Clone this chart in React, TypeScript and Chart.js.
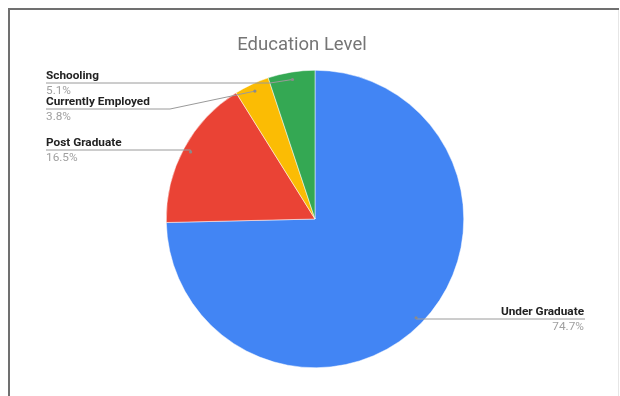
import React, { useEffect, useRef } from "react";
import { Chart, registerables } from "chart.js";

Chart.register(...registerables);

const categories = ["Under Graduate", "Post Graduate", "Currently Employed", "Schooling"];
const shares = [74.7, 16.5, 3.8, 5.1];
const colors = ["#4285F4", "#EA4335", "#FBBC04", "#34A853"];
const chartTitle = "Education Level";

// label layout (page coords): text x, name center y, align, elbow x (null = straight)
const labelLayout = [
  { x: 584, y: 312, align: "right", elbow: null as number | null },
  { x: 46, y: 143, align: "left", elbow: null as number | null },
  { x: 46, y: 102, align: "left", elbow: 170 },
  { x: 46, y: 76, align: "left", elbow: 270 },
];

const labelPlugin = {
  id: "sheetLabels",
  beforeDraw(chart: any) {
    const ctx = chart.ctx;
    const w = chart.width;
    const h = chart.height;
    ctx.save();
    ctx.fillStyle = "#ffffff";
    ctx.fillRect(0, 0, w, h);
    ctx.fillStyle = "#707070";
    ctx.fillRect(8, 8, w - 9, 2);
    ctx.fillRect(8, 8, 2, h - 8);
    ctx.fillStyle = "#e6e6e6";
    ctx.fillRect(w - 2, 10, 1, h - 10);
    ctx.restore();
  },
  afterDatasetsDraw(chart: any) {
    const ctx = chart.ctx;
    const meta = chart.getDatasetMeta(0);
    ctx.save();
    // title
    ctx.fillStyle = "#757575";
    ctx.font = "18.5px Roboto";
    ctx.textAlign = "center";
    ctx.textBaseline = "middle";
    ctx.fillText(chartTitle, 302, 45);

    meta.data.forEach((arc: any, i: number) => {
      const p = arc.getProps(["x", "y", "startAngle", "endAngle", "outerRadius"], true);
      const mid = (p.startAngle + p.endAngle) / 2;
      const r = p.outerRadius * 0.95;
      const dx = p.x + Math.cos(mid) * r;
      const dy = p.y + Math.sin(mid) * r;
      const L = labelLayout[i];
      const lineY = L.y + 7;
      ctx.strokeStyle = "#9a9a9a";
      ctx.lineWidth = 1;
      ctx.beginPath();
      ctx.moveTo(dx, dy);
      if (L.align === "right") {
        ctx.lineTo(dx, lineY);
        ctx.lineTo(L.x + 1, lineY);
      } else {
        if (L.elbow !== null) ctx.lineTo(L.elbow, lineY);
        else ctx.lineTo(dx, lineY);
        ctx.lineTo(L.x, lineY);
      }
      ctx.stroke();
      ctx.fillStyle = "#8a8a8a";
      ctx.beginPath();
      ctx.arc(dx, dy, 1.6, 0, Math.PI * 2);
      ctx.fill();

      ctx.textAlign = L.align as CanvasTextAlign;
      ctx.textBaseline = "middle";
      ctx.fillStyle = "#222222";
      ctx.font = "bold 11.8px Roboto";
      ctx.fillText(categories[i], L.x, L.y);
      ctx.fillStyle = "#a0a0a0";
      ctx.font = "11.8px Roboto";
      ctx.fillText(shares[i].toFixed(1) + "%", L.x, L.y + 15);
    });
    ctx.restore();
  },
};

export default function App() {
  const ref = useRef<HTMLCanvasElement | null>(null);
  useEffect(() => {
    if (!ref.current) return;
    const chart = new Chart(ref.current, {
      type: "pie",
      data: {
        labels: categories,
        datasets: [
          {
            data: shares,
            backgroundColor: colors,
            borderColor: "#ffffff",
            borderWidth: 0.5,
          },
        ],
      },
      options: {
        animation: false,
        responsive: false,
        layout: { padding: { top: 70, bottom: 28, left: 108, right: 98 } },
        plugins: {
          legend: { display: false },
          title: { display: false },
          tooltip: { enabled: false },
        },
      },
      plugins: [labelPlugin],
    });
    return () => chart.destroy();
  }, []);
  return (
    <div style={{ position: "absolute", left: 0, top: 0, width: 620, height: 396 }}>
      <canvas ref={ref} width={620} height={396} style={{ display: "block", width: 620, height: 396 }} />
    </div>
  );
}
